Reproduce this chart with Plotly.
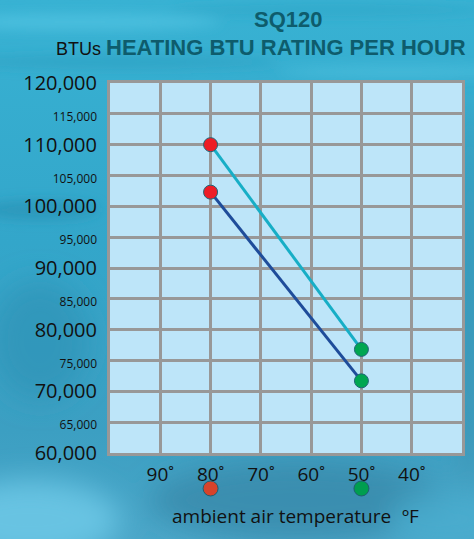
import base64
import plotly.graph_objects as go

# ---------------- data ----------------
temps = [80, 50]                       # ambient air temperature, °F
btu_upper = [110000, 76800]            # upper curve (light cyan)
btu_lower = [102300, 71700]            # lower curve (dark blue)
point_colors = ["#EE1C25", "#00A651"]  # red at 80°, green at 50°
row_colors = ["#D6432B", "#009E4F"]    # marker row under the axis

x_ticks = [90, 80, 70, 60, 50, 40]
x_ticktext = ["90˚", "80˚", "70˚", "60˚", "50˚", "40˚"]
y_ticks = list(range(60000, 120001, 5000))

# ---------------- layout helpers ----------------
FW, FH = 474, 539
L, R, T, B = 110, 462, 83, 519
PW, PH = R - L, B - T


def px_x(px):
    return (px - L) / PW


def px_y(py):
    return (B - py) / PH


main_bottom = px_y(453)

# tick labels: big for every 10,000, small for the 5,000 ones
y_ticktext = []
for v in y_ticks:
    s = f"{v:,}"
    if v % 10000 == 0:
        y_ticktext.append(s)
    else:
        y_ticktext.append(f"<span style='font-size:12px'>{s}</span>")

# ---------------- background (water-like) ----------------
svg = f"""<svg xmlns='http://www.w3.org/2000/svg' width='{FW}' height='{FH}' viewBox='0 0 {FW} {FH}'>
<defs>
<linearGradient id='g' x1='0' y1='0' x2='0' y2='1'>
<stop offset='0' stop-color='#38B2D3'/>
<stop offset='0.45' stop-color='#33A6CA'/>
<stop offset='0.8' stop-color='#3C9FC2'/>
<stop offset='1' stop-color='#4AA6C8'/>
</linearGradient>
<filter id='b' x='-50%' y='-50%' width='200%' height='200%'><feGaussianBlur stdDeviation='14'/></filter>
<filter id='b2' x='-50%' y='-50%' width='200%' height='200%'><feGaussianBlur stdDeviation='6'/></filter>
</defs>
<rect width='{FW}' height='{FH}' fill='url(#g)'/>
<g filter='url(#b2)'>
<ellipse cx='80' cy='22' rx='140' ry='8' fill='#52C4E2' opacity='0.7'/>
<ellipse cx='330' cy='10' rx='160' ry='6' fill='#2EA2C4' opacity='0.5'/>
<ellipse cx='120' cy='62' rx='160' ry='7' fill='#2B9BBE' opacity='0.5'/>
<ellipse cx='400' cy='72' rx='120' ry='6' fill='#4FC2E0' opacity='0.6'/>
<ellipse cx='40' cy='210' rx='60' ry='10' fill='#2A8FB3' opacity='0.6'/>
</g>
<g filter='url(#b)'>
<ellipse cx='40' cy='340' rx='50' ry='60' fill='#2F93B6' opacity='0.7'/>
<ellipse cx='30' cy='520' rx='90' ry='40' fill='#6CC6E6' opacity='0.9'/>
<ellipse cx='300' cy='500' rx='150' ry='40' fill='#3A8AAA' opacity='0.8'/>
<ellipse cx='470' cy='300' rx='10' ry='200' fill='#3D8FAD' opacity='0.8'/>
<ellipse cx='450' cy='520' rx='60' ry='30' fill='#4AAED0' opacity='0.8'/>
</g>
</svg>"""
bg_src = "data:image/svg+xml;base64," + base64.b64encode(svg.encode()).decode()

# ---------------- figure ----------------
fig = go.Figure()

fig.add_trace(go.Scatter(
    x=temps, y=btu_upper, mode="lines",
    line=dict(color="#17AEC6", width=3), hoverinfo="skip", showlegend=False,
))
fig.add_trace(go.Scatter(
    x=temps, y=btu_lower, mode="lines",
    line=dict(color="#1E4C9A", width=3), hoverinfo="skip", showlegend=False,
))
for ys in (btu_upper, btu_lower):
    fig.add_trace(go.Scatter(
        x=temps, y=ys, mode="markers",
        marker=dict(size=14, color=point_colors, line=dict(color="#1F6577", width=1)),
        showlegend=False,
    ))

# marker row beneath the axis
fig.add_trace(go.Scatter(
    x=temps, y=[0, 0], mode="markers", xaxis="x2", yaxis="y2",
    marker=dict(size=15, color=row_colors, line=dict(color="#1F5E70", width=1)),
    showlegend=False, hoverinfo="skip", cliponaxis=False,
))

grid = "#989898"
fig.update_layout(
    width=FW, height=FH,
    margin=dict(l=L, r=FW - R, t=T, b=FH - B, autoexpand=False),
    paper_bgcolor="#37A9CC",
    plot_bgcolor="rgba(0,0,0,0)",
    font=dict(family="Open Sans", color="#111111"),
    xaxis=dict(
        range=[100, 30], tickvals=x_ticks, ticktext=x_ticktext,
        tickfont=dict(size=19, family="Open Sans", color="#111111"),
        showgrid=True, gridcolor=grid, gridwidth=3,
        showline=True, linecolor=grid, linewidth=3, mirror=True,
        zeroline=False, ticks="", ticklabelstandoff=2,
        anchor="y", fixedrange=True, automargin=False,
    ),
    yaxis=dict(
        domain=[main_bottom, 1], range=[60000, 120000],
        tickvals=y_ticks, ticktext=y_ticktext,
        tickfont=dict(size=20, family="Open Sans", color="#111111"),
        showgrid=True, gridcolor=grid, gridwidth=3,
        showline=True, linecolor=grid, linewidth=3, mirror=True,
        zeroline=False, ticks="", ticklabelstandoff=6,
        anchor="x", fixedrange=True, automargin=False,
    ),
    xaxis2=dict(range=[100, 30], visible=False, anchor="y2", fixedrange=True),
    yaxis2=dict(domain=[0, 0.14], range=[-1, 1], visible=False, anchor="x2", fixedrange=True),
    images=[dict(
        source=bg_src, xref="paper", yref="paper",
        x=px_x(0), y=px_y(0), sizex=FW / PW, sizey=FH / PH,
        xanchor="left", yanchor="top", sizing="stretch", layer="below",
    )],
    shapes=[dict(
        type="rect", xref="x domain", yref="y domain", x0=0, x1=1, y0=0, y1=1,
        fillcolor="#BDE5F9", line=dict(width=0), layer="below",
    )],
    annotations=[
        dict(text="<b>SQ120</b>", x=px_x(288), y=px_y(20), xref="paper", yref="paper",
             showarrow=False, xanchor="center", yanchor="middle",
             font=dict(family="Liberation Sans", size=22, color="#0E5C6C")),
        dict(text="<b>HEATING BTU RATING PER HOUR</b>", x=px_x(286), y=px_y(47),
             xref="paper", yref="paper", showarrow=False, xanchor="center", yanchor="middle",
             font=dict(family="Liberation Sans", size=22, color="#0E5C6C")),
        dict(text="BTUs", x=px_x(103), y=px_y(49), xref="paper", yref="paper",
             showarrow=False, xanchor="right", yanchor="middle",
             font=dict(family="Liberation Sans", size=18, color="#111111")),
        dict(text="ambient air temperature", x=px_x(170), y=px_y(516),
             xref="paper", yref="paper", showarrow=False, xanchor="left", yanchor="middle",
             font=dict(family="Open Sans", size=19, color="#111111")),
        dict(text="ºF", x=px_x(400), y=px_y(516),
             xref="paper", yref="paper", showarrow=False, xanchor="left", yanchor="middle",
             font=dict(family="Open Sans", size=19, color="#111111")),
    ],
)

fig.write_html(
    "out.html",
    config={"displayModeBar": False, "staticPlot": True},
    post_script="document.body.style.margin='0';document.body.style.overflow='hidden';",
)
